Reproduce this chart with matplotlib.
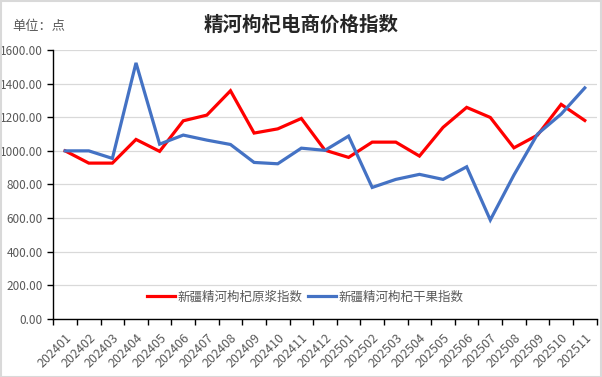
import numpy as np
import matplotlib.pyplot as plt

plt.rcParams['font.family'] = ['Noto Sans CJK SC', 'DejaVu Sans']

months = ['202401', '202402', '202403', '202404', '202405', '202406', '202407',
          '202408', '202409', '202410', '202411', '202412', '202501', '202502',
          '202503', '202504', '202505', '202506', '202507', '202508', '202509',
          '202510', '202511']
pulp_index = [1000, 927, 927, 1068, 997, 1179, 1213, 1358, 1106, 1131, 1193, 1004,
              961, 1052, 1052, 969, 1140, 1259, 1199, 1018, 1094, 1277, 1181]
dried_index = [1000, 1000, 955, 1524, 1040, 1094, 1064, 1038, 931, 923, 1016, 1003,
               1088, 782, 830, 860, 830, 905, 588, 856, 1100, 1219, 1375]
series_names = ['新疆精河枸杞原浆指数', '新疆精河枸杞干果指数']

fig = plt.figure(figsize=(6.02, 3.77), dpi=100)
ax = fig.add_axes([0.0886, 0.1546, 0.9024, 0.7124])

x = np.arange(len(months))
ax.plot(x, pulp_index, color='#FF0000', lw=2.3, label=series_names[0], solid_joinstyle='miter')
ax.plot(x, dried_index, color='#4472C4', lw=2.3, label=series_names[1], solid_joinstyle='miter')

ax.set_xlim(-0.5, len(months) - 0.5)
ax.set_ylim(0, 1600)
ax.set_yticks(np.arange(0, 1601, 200))
ax.set_yticklabels([f'{v:.2f}' for v in np.arange(0, 1601, 200)])
ax.yaxis.grid(True, color='#D9D9D9', lw=0.9)
ax.set_axisbelow(True)

ax.set_xticks(x)
ax.set_xticklabels(months, rotation=45, ha='right', va='top', rotation_mode='anchor')
ax.set_xticks(np.arange(-0.5, len(months), 1), minor=True)
ax.tick_params(axis='x', which='major', length=0, pad=9, labelsize=9, labelcolor='#595959')
ax.tick_params(axis='x', which='minor', length=4, width=1, color='black', direction='out')
ax.tick_params(axis='y', length=4, width=1, color='black', labelsize=8.5, labelcolor='#595959')

for s in ['top', 'right']:
    ax.spines[s].set_visible(False)
for s in ['left', 'bottom']:
    ax.spines[s].set_color('black')
    ax.spines[s].set_linewidth(1)

leg = fig.legend(loc='center', bbox_to_anchor=(0.507, 0.212), ncol=2, frameon=False,
                 fontsize=9, handlelength=2.2, columnspacing=0.5, handletextpad=0.2,
                 borderpad=0, borderaxespad=0)
for t in leg.get_texts():
    t.set_color('#595959')

fig.text(0.5, 0.934, '精河枸杞电商价格指数', ha='center', va='center',
         fontsize=14, fontweight='bold', color='#262626')
fig.text(0.02, 0.93, '单位：点', ha='left', va='center', fontsize=9.5, color='#595959')

fig.patches.append(plt.Rectangle((0.001, 0.001), 0.997, 0.996, transform=fig.transFigure,
                                 fill=False, edgecolor='#D9D9D9', lw=1.5))

fig.savefig('out.png', dpi=100)
